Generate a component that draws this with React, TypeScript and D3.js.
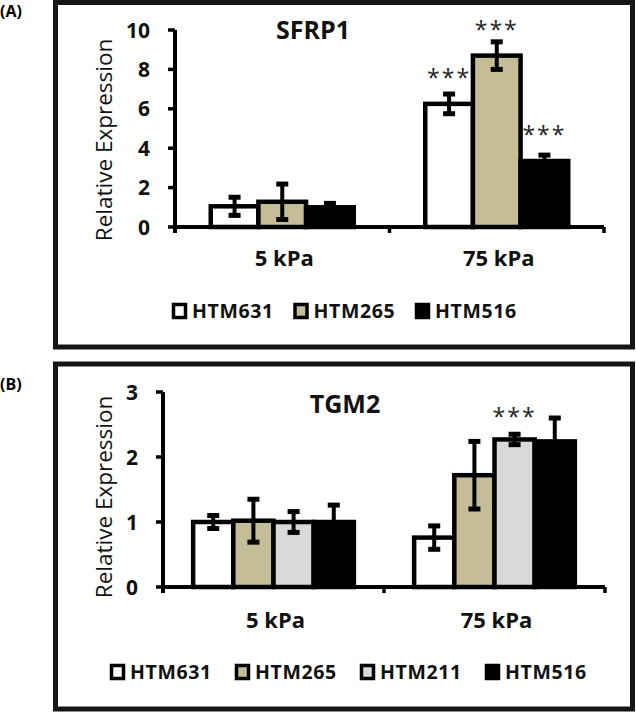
import React from "react";
import * as d3 from "d3";

const FONT = "'Open Sans', sans-serif";
const TAN = "#c4bd97";
const GREY = "#d9d9d9";

// panel A : SFRP1
const sfrp1Categories = ["5 kPa", "75 kPa"];
const sfrp1Series = ["HTM631", "HTM265", "HTM516"];
const sfrp1Colors = ["#ffffff", TAN, "#000000"];
const sfrp1Mean = [[1.05, 6.25], [1.28, 8.7], [1.0, 3.35]];
const sfrp1Err = [[0.46, 0.5], [0.9, 0.7], [0.2, 0.3]];
const sfrp1Sig = [[false, true], [false, true], [false, true]];
const sfrp1Ticks = [0, 2, 4, 6, 8, 10];

// panel B : TGM2
const tgm2Categories = ["5 kPa", "75 kPa"];
const tgm2Series = ["HTM631", "HTM265", "HTM211", "HTM516"];
const tgm2Colors = ["#ffffff", TAN, GREY, "#000000"];
const tgm2Mean = [[1.0, 0.76], [1.02, 1.72], [1.0, 2.27], [1.0, 2.24]];
const tgm2Err = [[0.1, 0.18], [0.33, 0.52], [0.16, 0.08], [0.26, 0.36]];
const tgm2Sig = [[false, false], [false, false], [false, true], [false, false]];
const tgm2Ticks = [0, 1, 2, 3];

type PanelProps = {
  box: [number, number, number, number];
  tag: string;
  tagY: number;
  title: string;
  titleX: number;
  titleY: number;
  categories: string[];
  series: string[];
  colors: string[];
  mean: number[][];
  err: number[][];
  sig: boolean[][];
  ticks: number[];
  yRange: [number, number];
  xRange: [number, number];
  starOffset: number;
  xLabelY: number;
  yLabelY: number;
  legendX: number;
  legendStep: number;
  legendY: number;
};

const Panel = (p: PanelProps) => {
  const [bx0, by0, bx1, by1] = p.box;
  const yMax = p.ticks[p.ticks.length - 1];
  const y = d3.scaleLinear().domain([0, yMax]).range(p.yRange);
  const x = d3.scaleBand().domain(p.categories).range(p.xRange).paddingInner(0).paddingOuter(0);
  const xs = d3
    .scaleBand()
    .domain(p.series)
    .range([0, x.bandwidth()])
    .paddingInner(0)
    .paddingOuter(0.75);
  const axisX = p.xRange[0];
  const y0 = y(0);
  const boundaries = [0, ...p.categories.map((_, i) => i + 1)].map(
    (i) => p.xRange[0] + i * x.bandwidth()
  );

  return (
    <g>
      <rect x={bx0} y={by0} width={bx1 - bx0} height={by1 - by0} fill="#fff" stroke="#161616" strokeWidth={5} />
      <text x={0} y={p.tagY} fontFamily={FONT} fontWeight="bold" fontSize={16} fill="#000">
        {p.tag}
      </text>
      <text x={p.titleX} y={p.titleY} textAnchor="middle" fontFamily={FONT} fontWeight="bold" fontSize={25} fill="#111">
        {p.title}
      </text>
      <text
        transform={`translate(112,${p.yLabelY}) rotate(-90)`}
        textAnchor="middle"
        fontFamily={FONT}
        fontSize={22.5}
        fill="#111"
      >
        Relative Expression
      </text>

      {/* bars */}
      {p.series.map((s, si) =>
        p.categories.map((c, ci) => {
          const v = p.mean[si][ci];
          const bx = (x(c) as number) + (xs(s) as number);
          const bw = xs.bandwidth();
          return (
            <rect
              key={s + c}
              x={bx}
              y={y(v)}
              width={bw}
              height={y0 - y(v)}
              fill={p.colors[si]}
              stroke="#000"
              strokeWidth={4.5}
            />
          );
        })
      )}
      {/* error bars and stars */}
      {p.series.map((s, si) =>
        p.categories.map((c, ci) => {
          const v = p.mean[si][ci];
          const e = p.err[si][ci];
          const cx = (x(c) as number) + (xs(s) as number) + xs.bandwidth() / 2;
          return (
            <g key={"e" + s + c}>
              <line x1={cx} x2={cx} y1={y(v - e)} y2={y(v + e)} stroke="#000" strokeWidth={4} />
              <line x1={cx - 6} x2={cx + 6} y1={y(v + e)} y2={y(v + e)} stroke="#000" strokeWidth={5} />
              <line x1={cx - 6} x2={cx + 6} y1={y(v - e)} y2={y(v - e)} stroke="#000" strokeWidth={5} />
              {p.sig[si][ci] && (
                <text
                  x={cx}
                  y={y(v) - p.starOffset + 14}
                  textAnchor="middle"
                  fontFamily={FONT}
                  fontSize={23}
                  letterSpacing={2}
                  fill="#222"
                >
                  ***
                </text>
              )}
            </g>
          );
        })
      )}

      {/* axes */}
      <line x1={axisX} x2={axisX} y1={y(yMax)} y2={y0 + 6} stroke="#000" strokeWidth={4} />
      <line x1={axisX} x2={p.xRange[1]} y1={y0} y2={y0} stroke="#000" strokeWidth={4} />
      {p.ticks.map((t) => (
        <g key={"t" + t}>
          <line x1={axisX - 7} x2={axisX} y1={y(t)} y2={y(t)} stroke="#000" strokeWidth={3.5} />
          <text
            x={axisX - 25}
            y={y(t) + 7.5}
            textAnchor="end"
            fontFamily={FONT}
            fontWeight="bold"
            fontSize={21}
            fill="#111"
          >
            {t}
          </text>
        </g>
      ))}
      {boundaries.map((bxv, i) => (
        <line key={"b" + i} x1={bxv} x2={bxv} y1={y0} y2={y0 + 6} stroke="#000" strokeWidth={3.5} />
      ))}
      {p.categories.map((c) => (
        <text
          key={"c" + c}
          x={(x(c) as number) + x.bandwidth() / 2 + 2}
          y={p.xLabelY}
          textAnchor="middle"
          fontFamily={FONT}
          fontWeight="bold"
          fontSize={22}
          fill="#111"
        >
          {c}
        </text>
      ))}

      {/* legend */}
      {p.series.map((s, si) => {
        const lx = p.legendX + si * p.legendStep;
        return (
          <g key={"l" + s}>
            <rect
              x={lx + 1.5}
              y={p.legendY - 6.5}
              width={12}
              height={13}
              fill={p.colors[si]}
              stroke="#000"
              strokeWidth={3.5}
            />
            <text
              x={lx + 20}
              y={p.legendY + 7}
              fontFamily={FONT}
              fontWeight="bold"
              fontSize={19.5}
              letterSpacing={0.6}
              fill="#111"
            >
              {s}
            </text>
          </g>
        );
      })}
    </g>
  );
};

const App = () => {
  return (
    <svg
      width={636}
      height={713}
      style={{ position: "absolute", left: 0, top: 0, background: "#fff" }}
    >
      <Panel
        box={[55.5, 2.5, 632.5, 347]}
        tag="(A)"
        tagY={17}
        title="SFRP1"
        titleX={313}
        titleY={39}
        categories={sfrp1Categories}
        series={sfrp1Series}
        colors={sfrp1Colors}
        mean={sfrp1Mean}
        err={sfrp1Err}
        sig={sfrp1Sig}
        ticks={sfrp1Ticks}
        yRange={[227, 30]}
        xRange={[175, 604]}
        starOffset={32}
        xLabelY={266}
        yLabelY={140}
        legendX={172}
        legendStep={121.5}
        legendY={311}
      />
      <Panel
        box={[55.5, 364, 632.5, 709]}
        tag="(B)"
        tagY={390}
        title="TGM2"
        titleX={345}
        titleY={413}
        categories={tgm2Categories}
        series={tgm2Series}
        colors={tgm2Colors}
        mean={tgm2Mean}
        err={tgm2Err}
        sig={tgm2Sig}
        ticks={tgm2Ticks}
        yRange={[587, 392]}
        xRange={[163, 605]}
        starOffset={28}
        xLabelY={628}
        yLabelY={497}
        legendX={110}
        legendStep={125}
        legendY={672}
      />
    </svg>
  );
};

export default App;
